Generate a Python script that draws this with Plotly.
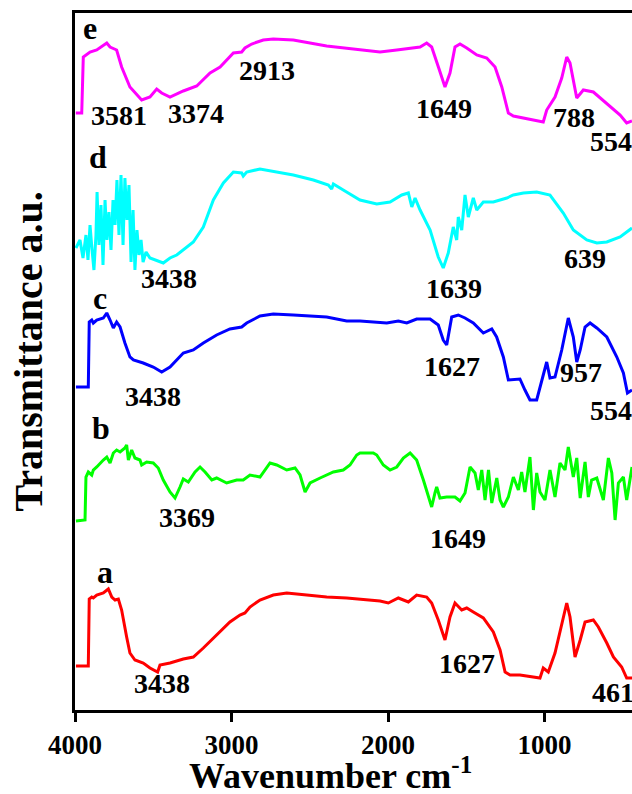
import plotly.graph_objects as go

# ---------------- data (wavenumber cm-1, transmittance a.u. with offsets) ----------------
a_wn = [3994, 3915, 3909, 3893, 3883, 3861, 3819, 3787, 3765, 3744, 3723, 3702, 3670, 3649, 3617,
        3564, 3521, 3472, 3457, 3393, 3308, 3244, 3180, 3095, 3010, 2946, 2914, 2882, 2818, 2733,
        2647, 2519, 2392, 2264, 2179, 2051, 1998, 1934, 1870, 1817, 1753, 1721, 1679, 1636, 1604,
        1572, 1529, 1497, 1455, 1391, 1327, 1284, 1252, 1220, 1157, 1029, 1008, 976, 933, 890,
        858, 837, 805, 772, 741, 688, 656, 602, 560, 507, 475, 441]
a_t = [44, 44, 111, 113, 112, 115, 117, 121, 113, 110, 111, 100, 73, 57, 50,
       47, 42, 38, 45, 47, 51, 53, 62, 75, 88, 95, 97, 103, 110, 115,
       117, 115, 113, 112, 111, 109, 107, 112, 108, 115, 113, 107, 90, 70, 93,
       107, 100, 102, 98, 92, 78, 60, 38, 35, 35, 32, 42, 38, 57, 87,
       107, 93, 53, 70, 88, 90, 83, 67, 53, 43, 32, 32]

b_wn = [3994, 3936, 3930, 3915, 3893, 3883, 3861, 3840, 3819, 3797, 3776, 3755, 3734, 3712, 3681,
        3670, 3659, 3638, 3617, 3585, 3574, 3542, 3500, 3468, 3436, 3393, 3361, 3329, 3308, 3276,
        3233, 3201, 3169, 3126, 3095, 3031, 2967, 2925, 2882, 2818, 2754, 2711, 2647, 2594, 2562,
        2530, 2498, 2434, 2349, 2286, 2243, 2200, 2179, 2094, 2072, 2030, 1987, 1944, 1902, 1859,
        1817, 1774, 1721, 1700, 1689, 1668, 1625, 1572, 1540, 1508, 1476, 1444, 1423, 1401, 1380,
        1358, 1337, 1305, 1284, 1263, 1231, 1199, 1167, 1146, 1125, 1093, 1071, 1050, 1029, 997,
        965, 933, 901, 869, 848, 816, 794, 772, 741, 720, 699, 666, 624, 592, 570,
        549, 528, 496, 475, 441]
b_t = [189, 190, 233, 238, 235, 240, 243, 247, 250, 253, 247, 257, 260, 258, 262,
       265, 250, 260, 252, 250, 245, 248, 247, 242, 230, 218, 212, 223, 231, 228,
       238, 243, 238, 230, 232, 227, 230, 230, 235, 233, 247, 245, 240, 242, 235,
       218, 227, 232, 238, 240, 245, 255, 257, 257, 255, 245, 240, 243, 252, 257,
       250, 230, 203, 217, 223, 212, 213, 213, 209, 217, 243, 237, 220, 240, 210,
       240, 207, 232, 210, 203, 213, 233, 220, 238, 218, 253, 200, 237, 218, 210,
       240, 213, 247, 240, 263, 233, 252, 212, 248, 213, 230, 232, 210, 252, 237,
       190, 227, 233, 210, 243]

c_wn = [3994, 3915, 3909, 3893, 3883, 3861, 3819, 3797, 3776, 3755, 3734, 3712, 3681, 3649, 3627,
        3564, 3500, 3446, 3393, 3350, 3308, 3244, 3180, 3095, 3010, 2935, 2903, 2818, 2733, 2605,
        2392, 2264, 2179, 2008, 1934, 1880, 1817, 1731, 1679, 1647, 1625, 1593, 1551, 1508, 1455,
        1391, 1337, 1306, 1263, 1231, 1157, 1125, 1093, 1050, 1018, 986, 965, 933, 890, 848,
        816, 794, 772, 741, 709, 666, 602, 538, 496, 470, 441]
c_t = [323, 323, 388, 390, 387, 390, 392, 397, 390, 382, 388, 383, 367, 353, 350,
       347, 343, 338, 343, 350, 357, 360, 367, 375, 381, 383, 387, 394, 396, 395,
       393, 389, 389, 387, 389, 387, 391, 391, 385, 370, 365, 393, 395, 392, 387,
       377, 381, 373, 353, 330, 331, 320, 310, 310, 330, 348, 332, 333, 360, 392,
       373, 348, 360, 383, 387, 382, 373, 353, 337, 317, 320]

d_wn = [3994, 3968, 3949, 3930, 3917, 3904, 3891, 3879, 3866, 3859, 3847, 3834, 3821, 3808, 3796,
        3783, 3770, 3757, 3744, 3732, 3719, 3706, 3693, 3681, 3668, 3655, 3642, 3629, 3617, 3604,
        3591, 3578, 3565, 3546, 3521, 3489, 3457, 3436, 3393, 3350, 3244, 3180, 3116, 3052, 2988,
        2935, 2925, 2903, 2818, 2711, 2605, 2477, 2381, 2360, 2349, 2286, 2200, 2179, 2072, 1987,
        1912, 1870, 1848, 1827, 1795, 1731, 1679, 1647, 1615, 1583, 1561, 1551, 1529, 1508, 1487,
        1455, 1433, 1391, 1327, 1241, 1199, 1135, 1050, 965, 880, 816, 730, 666, 602, 517, 441]
d_t = [462, 470, 452, 475, 450, 485, 460, 440, 475, 518, 465, 505, 445, 510, 470,
       498, 460, 510, 485, 530, 475, 535, 465, 532, 490, 525, 448, 500, 440, 480,
       455, 470, 448, 458, 452, 450, 448, 447, 452, 455, 468, 483, 510, 527, 538,
       537, 534, 538, 541, 538, 535, 530, 525, 521, 526, 520, 512, 510, 506, 508,
       515, 517, 503, 512, 500, 480, 453, 442, 457, 483, 470, 493, 480, 515, 493,
       512, 500, 508, 508, 512, 515, 517, 518, 515, 497, 480, 470, 467, 468, 473, 482]

e_wn = [3995, 3957, 3947, 3904, 3861, 3797, 3776, 3734, 3702, 3649, 3574, 3521, 3478, 3446, 3393,
        3308, 3222, 3137, 3073, 2988, 2935, 2914, 2871, 2797, 2733, 2605, 2392, 2179, 2051, 1944,
        1795, 1753, 1721, 1678, 1636, 1604, 1572, 1540, 1497, 1433, 1369, 1316, 1273, 1231, 1199,
        1008, 986, 933, 890, 858, 837, 794, 752, 688, 581, 517, 475, 441]
e_t = [597, 597, 653, 658, 660, 667, 663, 660, 643, 623, 610, 613, 621, 617, 613,
       619, 624, 637, 643, 657, 658, 662, 666, 670, 671, 670, 664, 660, 658, 660,
       663, 667, 663, 643, 623, 637, 663, 666, 662, 655, 652, 643, 623, 597, 594,
       588, 600, 613, 632, 653, 647, 612, 620, 618, 603, 595, 587, 589]

series_names = ["a", "b", "c", "d", "e"]
series_colors = ["#FF0000", "#00FF00", "#0000FF", "#00FFFF", "#FF00FF"]

# peak labels: (text, wavenumber, transmittance)
label_text = ["e", "3581", "3374", "2913", "1649", "788", "554",
              "d", "3438", "1639", "639",
              "c", "3438", "1627", "957", "554",
              "b", "3369", "1649",
              "a", "3438", "1627", "461"]
label_wn = [3904, 3719, 3227, 2773, 1642, 811, 575,
            3853, 3399, 1578, 741,
            3840, 3502, 1591, 767, 575,
            3834, 3284, 1553,
            3808, 3444, 1495, 565]
label_t = [682, 595, 597, 640, 602, 593, 569,
           553, 432, 422, 452,
           412, 314, 344, 338, 300,
           282, 193, 172,
           138, 27, 47, 18]

x_ticks = [4000, 3000, 2000, 1000]

# ---------------- figure ----------------
fig = go.Figure()
all_x = [a_wn, b_wn, c_wn, d_wn, e_wn]
all_y = [a_t, b_t, c_t, d_t, e_t]
for name, col, xs, ys in zip(series_names, series_colors, all_x, all_y):
    fig.add_trace(go.Scatter(x=xs, y=ys, mode="lines", name=name,
                             line=dict(color=col, width=3), showlegend=False))

font_family = "Liberation Serif"
for txt, wx, ty in zip(label_text, label_wn, label_t):
    is_letter = txt.isalpha()
    fig.add_annotation(x=wx, y=ty, xref="x", yref="y", text=txt,
                       showarrow=False, xanchor="center", yanchor="middle",
                       font=dict(family=font_family, size=32 if is_letter else 28,
                                 color="black", weight="bold"))

fig.add_annotation(x=0.458, y=0, xref="paper", yref="paper", yanchor="middle", xanchor="center",
                   yshift=-63, showarrow=False,
                   text="Wavenumber cm<sup>-1</sup>",
                   font=dict(family=font_family, size=36, color="black", weight="bold"))
fig.add_annotation(x=-0.083, y=0.514, xref="paper", yref="paper", xanchor="center", yanchor="middle",
                   showarrow=False, textangle=-90,
                   text="Transmittance a.u.",
                   font=dict(family=font_family, size=40, color="black", weight="bold"))

fig.update_layout(
    width=632, height=794,
    margin=dict(l=75, r=0, t=13, b=84),
    paper_bgcolor="white", plot_bgcolor="white",
    xaxis=dict(range=[4000, 441], tickvals=x_ticks, ticktext=[str(v) for v in x_ticks],
               showgrid=False, zeroline=False, showline=True, linecolor="black", linewidth=3,
               mirror=True, ticks="outside", ticklen=9, tickwidth=3, tickcolor="black",
               tickfont=dict(family=font_family, size=27, color="black", weight="bold")),
    yaxis=dict(range=[0, 697], showgrid=False, zeroline=False, showline=True,
               linecolor="black", linewidth=3, showticklabels=False, ticks=""),
)

fig.write_html("out.html")
